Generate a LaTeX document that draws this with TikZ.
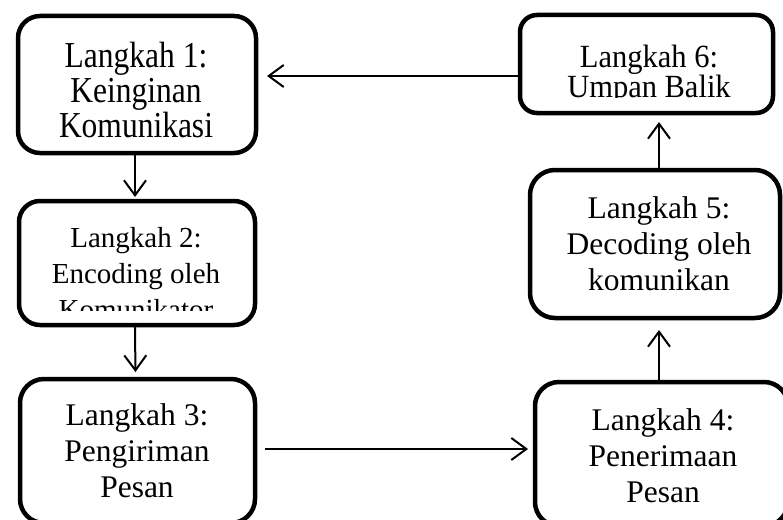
\documentclass[tikz,border=0pt]{standalone}
\usepackage{fontspec}
\setmainfont{Liberation Serif}
\usetikzlibrary{arrows.meta}
\newcommand{\boxtext}[3]{\vtop{\hsize=270pt\parindent=0pt\fontsize{#1}{#2}\selectfont\centering #3\par}}
\begin{document}
\begin{tikzpicture}[x=1pt,y=-1pt,
  stepbox/.style={draw, line width=4.5pt, rounded corners=#1, inner sep=0pt, outer sep=0pt},
  arr/.style={line width=2pt, -{Straight Barb[length=15pt,width=22pt,line width=2pt]}},
  txt/.style={anchor=base, inner sep=0pt}]
\useasboundingbox (0,0) rectangle (783,519);
\fill[white] (0,0) rectangle (783,519);
\clip (0,0) rectangle (783,519);
% boxes
\node[stepbox=22pt, minimum width=238pt, minimum height=137pt] (b1) at (137,84.5) {};
\node[stepbox=17pt, minimum width=253pt, minimum height=98pt] (b6) at (646.5,64) {};
\node[stepbox=21pt, minimum width=236pt, minimum height=124pt] (b2) at (137,263) {};
\node[stepbox=24pt, minimum width=235pt, minimum height=144pt] (b3) at (137.5,451) {};
\node[stepbox=24pt, minimum width=253pt, minimum height=144pt] (b4) at (661.5,454) {};
\node[stepbox=25pt, minimum width=250pt, minimum height=148pt] (b5) at (655,244) {};
% texts
\node[txt] (t1) at (136,67) {\scalebox{1}[1.16]{\boxtext{31.5}{30.2}{Langkah 1:\\Keinginan\\Komunikasi}}};
\begin{scope}
  \clip (518,13) rectangle (775,97.5);
  \node[txt] (t6) at (649,67) {\scalebox{1}[1.06]{\boxtext{30.5}{27.4}{Langkah 6:\\Umpan Balik}}};
\end{scope}
\begin{scope}
  \clip (17,199) rectangle (257,310);
  \node[txt] (t2) at (136,247) {\boxtext{29}{36}{Langkah 2:\\Encoding oleh\\Komunikator}};
\end{scope}
\node[txt] (t3) at (137,425) {\boxtext{31.5}{36}{Langkah 3:\\Pengiriman\\Pesan}};
\node[txt] (t4) at (663,430) {\boxtext{31.5}{36}{Langkah 4:\\Penerimaan\\Pesan}};
\node[txt] (t5) at (659,218) {\boxtext{31.5}{36}{Langkah 5:\\Decoding oleh\\komunikan}};
% connectors
\draw[arr, shorten >=11pt] ([yshift=-12pt]b6.west) -- ([yshift=-12pt]b6.west -| b1.east);
\draw[arr, shorten >=4pt] ([xshift=-2pt]b1.south) -- ([xshift=-2pt]b2.north);
\draw[arr, shorten >=7pt] ([xshift=-2pt]b2.south) -- ([xshift=-2pt]b3.north);
\draw[arr, shorten <=10pt, shorten >=7pt] ([yshift=2pt]b3.east) -- ([yshift=2pt]b3.east -| b4.west);
\draw[arr, shorten >=12pt] ([xshift=-2.5pt]b4.north) -- ([xshift=-2.5pt]b4.north |- b5.south);
\draw[arr, shorten >=9pt] ([xshift=-2.5pt]b4.north |- b5.north) -- ([xshift=-2.5pt]b4.north |- b6.south);
\end{tikzpicture}
\end{document}
